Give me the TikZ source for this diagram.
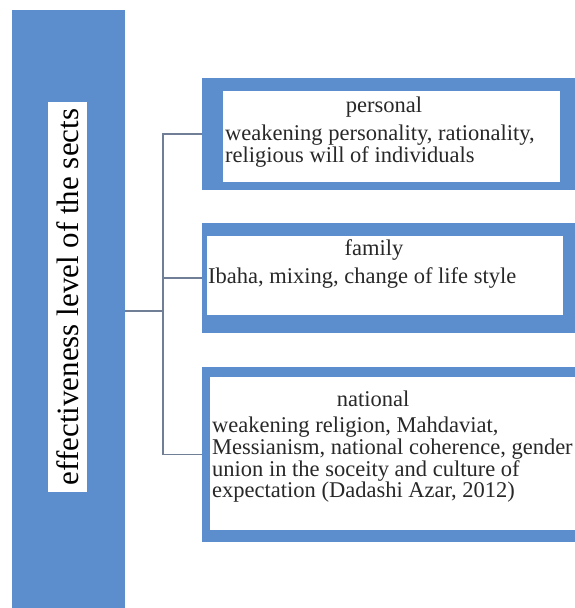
\documentclass[tikz,border=0pt]{standalone}
\usepackage{fontspec}
\setmainfont{Liberation Serif}
\definecolor{barblue}{RGB}{92,142,205}
\definecolor{linkgray}{RGB}{112,126,150}
\definecolor{inkgray}{RGB}{40,40,40}

\begin{document}
\begin{tikzpicture}[x=1pt, y=-1pt,
    frame/.style={fill=barblue, draw=none, inner sep=0pt},
    inner/.style={fill=white, draw=none, inner sep=0pt},
    title/.style={inner sep=0pt, text=inkgray, font=\fontsize{22.5}{21.7}\selectfont},
    body/.style={inner sep=0pt, align=left, anchor=north west, text=inkgray, font=\fontsize{22.5}{21.7}\selectfont},
    link/.style={draw=linkgray, line width=1.4pt}]
                \clip (0,0) rectangle (575,608);
                \fill[white] (0,0) rectangle (575,608);
                % left bar
                \node[frame, minimum width=113pt, minimum height=600pt] (bar) at (68.5,310) {};
                \node[inner, minimum width=39pt, minimum height=390pt] (barlabel) at (67.5,297) {};
                \node[rotate=90, inner sep=0pt, font=\fontsize{31}{34}\selectfont] at (barlabel) {effectiveness level of the sects};
                % personal
                \node[frame, minimum width=380pt, minimum height=112pt] (personal) at (392,134) {};
                \node[inner, minimum width=337pt, minimum height=91pt] (personalin) at (391.5,136.5) {};
                \node[title] at (384,107) {personal};
                \node[body] at (225,125) {weakening personality, rationality,\\religious will of individuals};
                % family
                \node[frame, minimum width=380pt, minimum height=110pt] (family) at (392,278) {};
                \node[inner, minimum width=356pt, minimum height=79pt] (familyin) at (385,275.5) {};
                \node[title] at (374,250) {family};
                \node[body] at (208,267) {Ibaha, mixing, change of life style};
                % national
                \node[frame, minimum width=380pt, minimum height=175pt] (national) at (392,454.5) {};
                \node[inner, minimum width=370pt, minimum height=153pt] (nationalin) at (395,453.5) {};
                \node[title] at (373,399) {national};
                \node[body] at (212,417) {weakening religion, Mahdaviat,\\Messianism, national coherence, gender\\union in the soceity and culture of\\expectation (Dadashi Azar, 2012)};
                % connectors
                \coordinate (hub) at (163,311);
                \draw[link] (bar.east |- hub) -- (hub);
                \draw[link] (hub) |- (personal.west);
                \draw[link] (hub) |- (family.west);
                \draw[link] (hub) |- (national.west);
            \end{tikzpicture}
\end{document}
